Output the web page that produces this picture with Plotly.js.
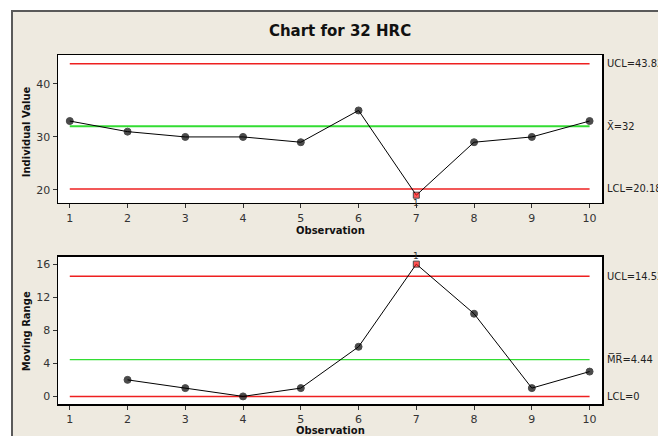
<!DOCTYPE html>
<html>
<head>
<meta charset="utf-8">
<script src="https://cdn.plot.ly/plotly-3.0.1.min.js"></script>
<style>
html,body{margin:0;padding:0;background:#ffffff;width:658px;height:436px;overflow:hidden;}
#frame{position:absolute;left:11px;top:10px;width:647px;height:426px;border-left:2px solid #5a5a5a;border-top:2px solid #5a5a5a;background:#eeeae0;}
#chart{width:645px;height:424px;}
</style>
</head>
<body>
<div id="frame"><div id="chart"></div></div>
<script>
// ---- data ----
var observations = [1, 2, 3, 4, 5, 6, 7, 8, 9, 10];
var individualValues = [33, 31, 30, 30, 29, 35, 19, 29, 30, 33];
var mrObservations = [2, 3, 4, 5, 6, 7, 8, 9, 10];
var movingRanges = [2, 1, 0, 1, 6, 16, 10, 1, 3];
var iCenter = 32, iUCL = 43.82, iLCL = 20.18;
var mrCenter = 4.44, mrUCL = 14.52, mrLCL = 0;
var xTicks = [1, 2, 3, 4, 5, 6, 7, 8, 9, 10];
var iTicks = [20, 30, 40];
var mrTicks = [0, 4, 8, 12, 16];
var title = 'Chart for 32 HRC';

// ---- styling ----
var FONT = 'DejaVu Sans, Verdana, sans-serif';
var CFONT = 'DejaVu Sans Condensed, DejaVu Sans, sans-serif';
var RED = '#ee2020', GREEN = '#33dd33';
function outOfControl(vals, lcl, ucl){ return vals.map(function(v){ return v > ucl || v < lcl; }); }
var iOut = outOfControl(individualValues, iLCL, iUCL);
var mrOut = outOfControl(movingRanges, mrLCL, mrUCL);
var xFirst = observations[0], xLast = observations[observations.length-1];

function hline(y, color, width, xa, ya){
  return {x:[xFirst, xLast], y:[y, y], mode:'lines', line:{color:color, width:width}, xaxis:xa, yaxis:ya, hoverinfo:'skip', showlegend:false};
}
function series(xs, ys, out, xa, ya){
  return {x:xs, y:ys, mode:'lines+markers', xaxis:xa, yaxis:ya, showlegend:false,
    line:{color:'#000000', width:1},
    marker:{color: out.map(function(o){return o ? '#ff1010' : '#000000';}),
            symbol: out.map(function(o){return o ? 'square' : 'circle';}),
            size: out.map(function(o){return o ? 6 : 7;})}};
}

var traces = [
  hline(iUCL, RED, 1.5, 'x', 'y'),
  hline(iLCL, RED, 1.5, 'x', 'y'),
  hline(iCenter, GREEN, 2, 'x', 'y'),
  series(observations, individualValues, iOut, 'x', 'y'),
  hline(mrUCL, RED, 1.5, 'x2', 'y2'),
  hline(mrCenter, GREEN, 1.2, 'x2', 'y2'),
  hline(mrLCL, RED, 1.5, 'x2', 'y2'),
  series(mrObservations, movingRanges, mrOut, 'x2', 'y2')
];

var tickFont = {family: FONT, size: 11, color: '#333333'};
function xaxis(anchor){
  return {anchor:anchor, range:[0.796, 10.215], tickvals:xTicks, ticktext:xTicks.map(String),
    showgrid:false, zeroline:false, showline:true, mirror:true, linecolor:'#000000', linewidth:1.5,
    ticks:'outside', ticklen:4, tickcolor:'#333333', tickfont:tickFont};
}
function yaxis(anchor, range, ticks, domain){
  return {anchor:anchor, domain:domain, range:range, tickvals:ticks, ticktext:ticks.map(String),
    showgrid:false, zeroline:false, showline:true, mirror:true, linecolor:'#000000', linewidth:1.5,
    ticks:'outside', ticklen:4, tickcolor:'#333333', tickfont:tickFont};
}

var annFont = {family: CFONT, size: 11, color: '#222222'};
var boldFont = {family: FONT, size: 10, color: '#111111', weight: 'bold'};
var annotations = [
  {text:'<b>Observation</b>', xref:'paper', yref:'paper', x:0.5, y:0.498, showarrow:false, font:boldFont, xanchor:'center', yanchor:'middle'},
  {text:'<b>Observation</b>', xref:'paper', yref:'paper', x:0.5, y:-0.077, showarrow:false, font:boldFont, xanchor:'center', yanchor:'middle'},
  {text:'<b>Individual Value</b>', xref:'paper', yref:'paper', x:-0.0579, y:0.78, textangle:-90, showarrow:false, font:boldFont, xanchor:'center', yanchor:'middle'},
  {text:'<b>Moving Range</b>', xref:'paper', yref:'paper', x:-0.0579, y:0.2067, textangle:-90, showarrow:false, font:boldFont, xanchor:'center', yanchor:'middle'},
  {text:'UCL=' + iUCL.toFixed(2), xref:'paper', yref:'y', x:1.006, y:iUCL, showarrow:false, font:annFont, xanchor:'left', yanchor:'middle'},
  {text:'X\u0304=' + iCenter, xref:'paper', yref:'y', x:1.006, y:iCenter, showarrow:false, font:annFont, xanchor:'left', yanchor:'middle'},
  {text:'LCL=' + iLCL.toFixed(2), xref:'paper', yref:'y', x:1.006, y:iLCL, showarrow:false, font:annFont, xanchor:'left', yanchor:'middle'},
  {text:'UCL=' + mrUCL.toFixed(2), xref:'paper', yref:'y2', x:1.006, y:mrUCL, showarrow:false, font:annFont, xanchor:'left', yanchor:'middle'},
  {text:'M\u0305R\u0305=' + mrCenter.toFixed(2), xref:'paper', yref:'y2', x:1.006, y:mrCenter, showarrow:false, font:annFont, xanchor:'left', yanchor:'middle'},
  {text:'LCL=' + mrLCL, xref:'paper', yref:'y2', x:1.006, y:mrLCL, showarrow:false, font:annFont, xanchor:'left', yanchor:'middle'}
];
observations.forEach(function(x, i){
  if (iOut[i]) annotations.push({text:'1', xref:'x', yref:'y', x:x, y:individualValues[i], yshift:-8, showarrow:false, font:{family:FONT, size:9, color:'#333333'}, yanchor:'middle'});
});
mrObservations.forEach(function(x, i){
  if (mrOut[i]) annotations.push({text:'1', xref:'x2', yref:'y2', x:x, y:movingRanges[i], yshift:8, showarrow:false, font:{family:FONT, size:9, color:'#333333'}, yanchor:'middle'});
});

var layout = {
  width:645, height:424,
  margin:{l:44.5, r:56.3, t:43, b:31.7, pad:0},
  paper_bgcolor:'#eeeae0', plot_bgcolor:'#ffffff',
  title:{text:'<b>' + title + '</b>', font:{family:FONT, size:15, color:'#111111'}, x:0.507, xanchor:'center', y:1-19/424, yanchor:'middle', yref:'container'},
  xaxis: xaxis('y'),
  yaxis: yaxis('x', [17.55, 45.47], iTicks, [0.5763, 1]),
  xaxis2: xaxis('y2'),
  yaxis2: yaxis('x2', [-0.92, 16.92], mrTicks, [0, 0.4226]),
  annotations: annotations,
  showlegend:false
};
Plotly.newPlot('chart', traces, layout, {staticPlot:true, displayModeBar:false});
</script>
</body>
</html>
